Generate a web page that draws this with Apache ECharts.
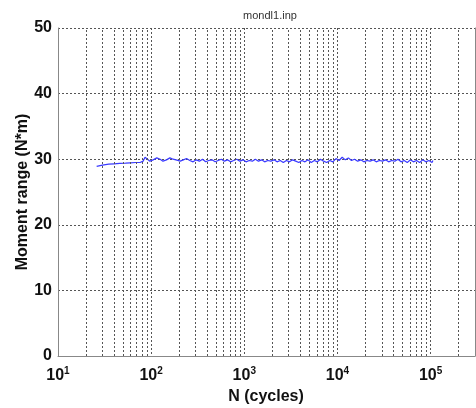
<!DOCTYPE html>
<html><head><meta charset="utf-8">
<script src="https://cdn.jsdelivr.net/npm/echarts@6/dist/echarts.min.js"></script>
<style>html,body{margin:0;padding:0;background:#fff}#c{width:476px;height:408px}</style>
</head><body><div id="c"></div>
<script>
var titleText = 'mondl1.inp';
var xTitle = 'N (cycles)';
var yTitle = 'Moment range (N*m)';
var cycles = [26,30,35,40,46,53,60,68,76,82,86,90,97,105,115,125,134,146,159,172,189,205,222,240,260,282,305,330,356,385,415,450,487,525,567,612,660,712,770,830,897,968,1045,1130,1220,1315,1420,1535,1655,1790,1930,2085,2250,2430,2625,2835,3060,3300,3565,3850,4155,4485,4845,5230,5645,6095,6580,7105,7670,8280,8940,9650,10420,11250,12145,13110,14155,15280,16500,17810,19230,20760,22410,24200,26120,28200,30450,32870,35490,38310,41360,44650,48210,52050,56190,60660,65490,70700,76330,82400,88960,96040,103700,106000];
var moment = [28.9,29.1,29.25,29.3,29.35,29.4,29.45,29.5,29.5,29.7,30.3,30.1,29.7,29.9,30.2,30.0,29.7,29.9,30.2,30.0,29.85,29.7,29.9,30.1,29.8,29.6,29.9,29.7,30.0,29.6,29.8,29.9,29.6,29.8,30.0,29.7,29.9,29.6,29.8,30.0,29.7,29.9,29.6,29.8,29.7,30.0,29.7,29.9,29.6,29.8,29.7,29.9,29.6,29.8,29.5,29.8,29.6,29.9,29.7,29.5,29.8,29.6,29.9,29.5,29.8,29.6,30.0,29.7,29.5,29.8,29.6,30.1,29.8,30.3,29.9,30.2,29.8,30.0,29.7,29.9,29.6,29.8,29.7,29.9,29.6,29.8,29.7,29.9,29.6,29.8,29.7,30.0,29.6,29.8,29.5,29.9,29.6,29.8,29.5,29.9,29.6,29.8,29.5,29.8];
var xMin = 10, xMax = 300000;
var yTicks = [0,10,20,30,40,50];
var minorGrid = [20,30,40,50,60,70,80,90,200,300,400,500,600,700,800,900,2000,3000,4000,5000,6000,7000,8000,9000,20000,30000,40000,50000,60000,70000,80000,90000,200000];

var data = cycles.map(function(n,i){return [n, moment[i]];});
var chart = echarts.init(document.getElementById('c'), null, {renderer:'canvas'});
var gridStyle = {color:'#555', width:1, type:[2,2]};
var nameFont = {fontFamily:'Liberation Sans', fontSize:16, fontWeight:'bold', fill:'#111'};
chart.setOption({
  animation:false,
  backgroundColor:'#fff',
  title:{text:titleText, left:265, top:5, textAlign:'center',
    textStyle:{fontFamily:'Liberation Sans', fontSize:11, fontWeight:'normal', color:'#333'}},
  grid:{left:58, top:28, right:1, bottom:52},
  graphic:[
    {type:'text', x:266, y:397, style:Object.assign({text:xTitle, align:'center', verticalAlign:'middle'}, nameFont)},
    {type:'text', x:23, y:192, rotation:Math.PI/2, style:Object.assign({text:yTitle, align:'center', verticalAlign:'middle'}, nameFont)}
  ],
  xAxis:{type:'log', logBase:10, min:xMin, max:xMax,
    axisLine:{show:true, lineStyle:{color:'#888', width:1}},
    axisTick:{show:false},
    axisLabel:{margin:10, showMaxLabel:false, color:'#111',
      formatter:function(v){var e=Math.round(Math.log10(v)); if(Math.abs(Math.pow(10,e)-v)>1e-6*v) return ''; return '{b|10}{s|'+e+'}';},
      rich:{b:{fontFamily:'Liberation Sans', fontSize:16, fontWeight:'bold', color:'#111'},
            s:{fontFamily:'Liberation Sans', fontSize:10, fontWeight:'bold', color:'#111', padding:[0,0,9,0]}}},
    splitLine:{show:true, lineStyle:gridStyle}
  },
  yAxis:[{type:'value', min:0, max:50, interval:10,
    axisLine:{show:true, lineStyle:{color:'#888', width:1}},
    axisTick:{show:false},
    axisLabel:{margin:6, color:'#111', fontFamily:'Liberation Sans', fontSize:16, fontWeight:'bold',
      formatter:function(v){return yTicks.indexOf(v)>=0 ? String(v) : '';}},
    splitLine:{show:true, lineStyle:gridStyle}
  },{type:'value', min:0, max:50, position:'right',
    axisLine:{show:true, lineStyle:{color:'#888', width:1}},
    axisTick:{show:false}, axisLabel:{show:false}, splitLine:{show:false}}],
  series:[{type:'line', data:data, showSymbol:false, symbol:'none',
    lineStyle:{color:'#3a3aff', width:1.2},
    markLine:{silent:true, symbol:'none', label:{show:false}, animation:false,
      lineStyle:gridStyle,
      data:minorGrid.map(function(v){return {xAxis:v};})}
  }]
});
</script></body></html>
